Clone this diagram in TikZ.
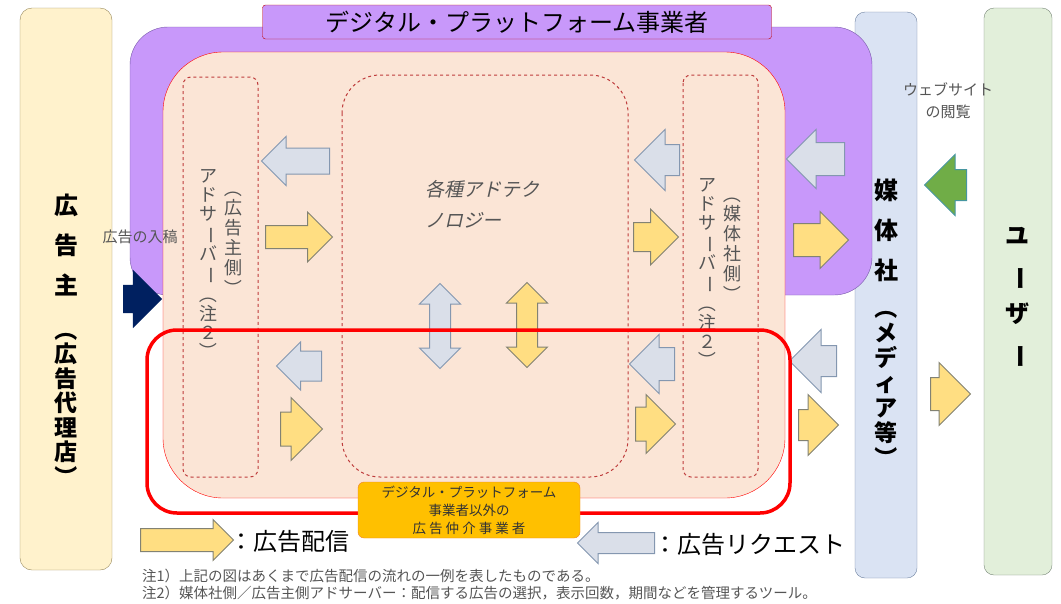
\documentclass[tikz,border=0pt]{standalone}
\usepackage{fontspec}
\usepackage{graphicx}
\setmainfont{Noto Sans CJK JP}
\newfontfamily\slantjp[FakeSlant=0.22]{Noto Sans CJK JP}
\usetikzlibrary{shapes.arrows}

\definecolor{advfill}{RGB}{255,242,204}
\definecolor{advline}{RGB}{150,135,90}
\definecolor{dpffill}{RGB}{200,152,250}
\definecolor{dpfline}{RGB}{120,90,170}
\definecolor{pinkfill}{RGB}{251,229,214}
\definecolor{medfill}{RGB}{218,227,243}
\definecolor{medline}{RGB}{110,130,160}
\definecolor{usrfill}{RGB}{226,239,218}
\definecolor{usrline}{RGB}{120,135,120}
\definecolor{reqfill}{RGB}{218,223,233}
\definecolor{reqline}{RGB}{132,151,176}
\definecolor{delfill}{RGB}{255,222,130}
\definecolor{delline}{RGB}{130,130,115}
\definecolor{grnfill}{RGB}{112,173,71}
\definecolor{grnline}{RGB}{70,150,160}
\definecolor{navy}{RGB}{0,32,96}
\definecolor{orgfill}{RGB}{255,192,0}
\definecolor{orgline}{RGB}{237,125,49}
\definecolor{txtgray}{RGB}{85,85,85}
\definecolor{dashred}{RGB}{190,60,60}

% vertical writing: turn a glyph a quarter clockwise
\newcommand\vr[1]{\rotatebox[origin=c]{-90}{#1}}

\tikzset{
	asize/.style n args={3}{minimum height=#1, inner ysep=#2, single arrow head extend=#3},
	dsize/.style n args={3}{minimum height=#1, inner xsep=#2, double arrow head extend=#3},
	reqarr/.style={single arrow, draw=reqline, fill=reqfill, line width=1pt, inner xsep=0pt,
		shape border rotate=180, anchor=tail},
	delarr/.style={single arrow, draw=delline, fill=delfill, line width=1pt, inner xsep=0pt, anchor=tail},
	vlabel/.style={align=center, inner sep=0pt},
	serverbox/.style={dashred, dashed, line width=1pt, rounded corners=8},
}

\begin{document}
\begin{tikzpicture}[x=1pt, y=-1pt]
	\useasboundingbox (0,0) rectangle (1061,603);
	
	% 1. outer boxes
	\draw[advline, fill=advfill, rounded corners=12] (20,8) rectangle (112,570);
	\draw[medline, fill=medfill, rounded corners=10] (855,12) rectangle (917,578);
	\draw[usrline, fill=usrfill, rounded corners=10] (984,8) rectangle (1052,575);
	
	% 2. digital platform area
	\draw[dpfline, fill=dpffill, rounded corners=38] (130,27) rectangle (872,295);
	\node[draw=red!75!black, fill=dpffill, rounded corners=3, minimum width=509, minimum height=34,
		font=\fontsize{24}{26}\selectfont] (dpf) at (517,22) {デジタル・プラットフォーム事業者};
	\draw[red, fill=pinkfill, rounded corners=60] (163,52) rectangle (785,498);
	
	% 3. ad servers and ad tech (dashed)
	\draw[serverbox] (183,77) rectangle (258,477);
	\draw[serverbox] (683,75) rectangle (758,477);
	\draw[serverbox, rounded corners=38] (342,75) rectangle (628,477);
	
	% 4. labels of the columns
	\node[vlabel, font=\bfseries\fontsize{24}{40}\selectfont] (adv) at (66,245) {広\\告\\主};
	\node[vlabel, font=\bfseries\fontsize{23}{24.5}\selectfont] (agency) at (66,403)
		{\vr{（}\\広\\告\\代\\理\\店\\\vr{）}};
	\node[vlabel, font=\bfseries\fontsize{24}{40}\selectfont] (media) at (886,230) {媒\\体\\社};
	\node[vlabel, font=\bfseries\fontsize{23}{25}\selectfont] (mediaetc) at (886,383)
		{\vr{（}\\メ\\デ\\ィ\\ア\\等\\\vr{）}};
	\node[vlabel, font=\bfseries\fontsize{24}{39}\selectfont] (user) at (1017,298)
		{ユ\\\vr{ー}\\ザ\\\vr{ー}};
	
	\node[vlabel, text=txtgray, font=\fontsize{18}{20}\selectfont] (advside) at (233,238)
		{\vr{（}\\広\\告\\主\\側\\\vr{）}};
	\node[vlabel, text=txtgray, font=\fontsize{18}{19}\selectfont] (advserver) at (208,265)
		{ア\\ド\\サ\\\vr{ー}\\バ\\\vr{ー}\\\vr{（}\\注\\２\\\vr{）}};
	\node[vlabel, text=txtgray, font=\fontsize{18}{20}\selectfont] (medside) at (732,244)
		{\vr{（}\\媒\\体\\社\\側\\\vr{）}};
	\node[vlabel, text=txtgray, font=\fontsize{18}{19}\selectfont] (medserver) at (707,274)
		{ア\\ド\\サ\\\vr{ー}\\バ\\\vr{ー}\\\vr{（}\\注\\２\\\vr{）}};
	\node[align=left, text=txtgray, font=\slantjp\fontsize{19}{31}\selectfont] (adtech) at (482,204)
		{各種アドテク\\ノロジー};
	
	% 5. arrows: requests (grey) and delivery (yellow), placed by their tails
	\node[reqarr, asize={68}{12.5}{11.5}] (rq1) at (330,161) {};
	\node[reqarr, asize={45}{14.5}{9}] (rq2) at (322,366) {};
	\node[reqarr, asize={45}{15}{15}] (rq3) at (680,160) {};
	\node[reqarr, asize={45}{16}{13}] (rq4) at (675,364) {};
	\node[reqarr, asize={58}{16}{13}] (rq5) at (845,159) {};
	\node[reqarr, asize={47}{15}{16}] (rq6) at (837,361) {};
	\node[delarr, asize={67}{11}{13.5}] (dl1) at (265,237) {};
	\node[delarr, asize={42}{16.5}{14.5}] (dl2) at (280,429) {};
	\node[delarr, asize={45}{14}{13.5}] (dl3) at (633,237) {};
	\node[delarr, asize={40}{16.5}{12.5}] (dl4) at (635,424) {};
	\node[delarr, asize={55}{16}{12}] (dl5) at (793,240) {};
	\node[delarr, asize={40}{15}{15}] (dl6) at (798,425) {};
	\node[delarr, asize={40}{16}{15}] (dl7) at (930,394) {};
	\node[double arrow, draw=reqline, fill=reqfill, line width=1pt, inner ysep=0pt,
		shape border rotate=90, dsize={85}{10}{10}] (db1) at (440,326) {};
	\node[double arrow, draw=delline, fill=delfill, line width=1pt, inner ysep=0pt,
		shape border rotate=90, dsize={85}{10}{10}] (db2) at (527,325) {};
	\node[single arrow, draw=grnline, fill=grnfill, line width=1pt, inner xsep=0pt, anchor=tail,
		shape border rotate=180, asize={42}{15}{15}] (view) at (967,185) {};
	\node[single arrow, fill=navy, inner xsep=0pt, anchor=tail, asize={39}{14}{15}] (entry) at (123,299) {};
	
	% 6. the other intermediaries
	\draw[red, line width=3.5pt, rounded corners=30] (147,330) rectangle (790,513);
	\node[draw=orgline, fill=orgfill, rounded corners=6, minimum width=222, minimum height=56,
		align=center, text=black!80, font=\fontsize{13.5}{18}\selectfont] (other) at (469,510)
		{デジタル・プラットフォーム\\事業者以外の\\広 告 仲 介 事 業 者};
	
	% 7. small labels
	\node[align=center, text=txtgray, font=\fontsize{15}{22}\selectfont] (browse) at (948,101)
		{ウェブサイト\\の閲覧};
	\node[text=txtgray, font=\fontsize{15}{18}\selectfont] (submit) at (140,237) {広告の入稿};
	
	% 8. legend and notes
	\node[delarr, asize={93}{11}{9}] (dlL) at (140,540) {};
	\node[anchor=west, inner sep=0pt, font=\fontsize{24}{28}\selectfont] (dlLtext) at (229,541) {：広告配信};
	\node[reqarr, asize={77}{10}{10}] (rqL) at (655,543) {};
	\node[anchor=west, inner sep=0pt, font=\fontsize{24}{28}\selectfont] (rqLtext) at (653,544) {：広告リクエスト};
	\node[anchor=west, inner sep=0pt, text=txtgray, font=\fontsize{14.5}{17}\selectfont] (note1) at (142,576)
		{注1）上記の図はあくまで広告配信の流れの一例を表したものである。};
	\node[anchor=west, inner sep=0pt, text=txtgray, font=\fontsize{14.5}{17}\selectfont] (note2) at (142,593)
		{注2）媒体社側／広告主側アドサーバー：配信する広告の選択，表示回数，期間などを管理するツール。};
	
\end{tikzpicture}
\end{document}
